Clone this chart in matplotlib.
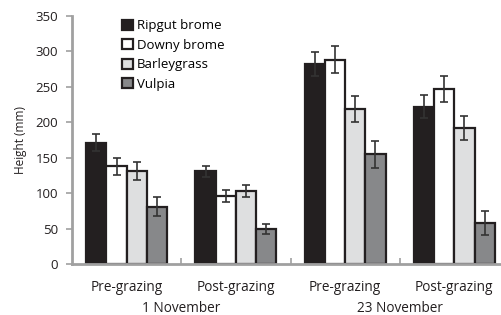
import matplotlib
matplotlib.use("Agg")
import matplotlib.pyplot as plt
import numpy as np

plt.rcParams['font.family'] = ['Open Sans', 'DejaVu Sans']

groups = ["Pre-grazing", "Post-grazing", "Pre-grazing", "Post-grazing"]
dates = ["1 November", "23 November"]
species = ["Ripgut brome", "Downy brome", "Barleygrass", "Vulpia"]
ripgut = [171, 131, 282, 222]
ripgut_err = [12, 8, 17, 16]
downy = [138, 96, 288, 247]
downy_err = [12, 8, 19, 18]
barley = [131, 103, 219, 192]
barley_err = [13, 8, 18, 17]
vulpia = [81, 49, 155, 58]
vulpia_err = [13, 7, 19, 17]

values = [ripgut, downy, barley, vulpia]
errors = [ripgut_err, downy_err, barley_err, vulpia_err]
colors = ["#231f20", "#ffffff", "#dedfe0", "#87888a"]

fig = plt.figure(figsize=(5.02, 3.15), dpi=100)
ax = fig.add_axes([72/502, 51/315, 437/502, 248/315])

x = np.arange(len(groups))
w = 0.185
for i, (v, e, c, lab) in enumerate(zip(values, errors, colors, species)):
    pos = x + (i - 1.5) * w
    ax.bar(pos, v, width=w, color=c, edgecolor="#231f20", linewidth=1.6, label=lab, zorder=2)
    ax.errorbar(pos, v, yerr=e, fmt='none', ecolor="#333333", elinewidth=1.2,
                capsize=3, capthick=1.2, zorder=3)

ax.set_xlim(-0.5, 3.5)
ax.set_ylim(0, 350)
ax.set_yticks(range(0, 351, 50))
ax.set_xticks([0.5, 1.5, 2.5])
ax.set_xticklabels([])
ax.tick_params(axis='x', direction='in', length=4, color="#a0a0a0", width=1.2)
ax.tick_params(axis='y', direction='out', length=4, color="#a0a0a0", width=1.2,
               labelsize=9.5, labelcolor="#231f20", pad=6)
for s in ["top", "right"]:
    ax.spines[s].set_visible(False)
for s in ["left", "bottom"]:
    ax.spines[s].set_color("#a0a0a0")
    ax.spines[s].set_linewidth(2)

for xi, g in zip(x, groups):
    ax.text(xi, -0.095, g, transform=ax.get_xaxis_transform(), ha='center', va='center',
            fontsize=9.8, color="#231f20")
for k, d in enumerate(dates):
    ax.text(0.5 + 2 * k, -0.18, d, transform=ax.get_xaxis_transform(), ha='center',
            va='center', fontsize=9.8, color="#231f20")

ax.set_ylabel("Height (mm)", fontsize=8.5, color="#231f20", labelpad=6)

leg = ax.legend(loc='upper left', bbox_to_anchor=(0.088, 1.035), frameon=False,
                fontsize=9.5, handlelength=0.8, handleheight=0.8, handletextpad=0.3,
                labelspacing=0.5)

fig.savefig("out.png", dpi=100)
